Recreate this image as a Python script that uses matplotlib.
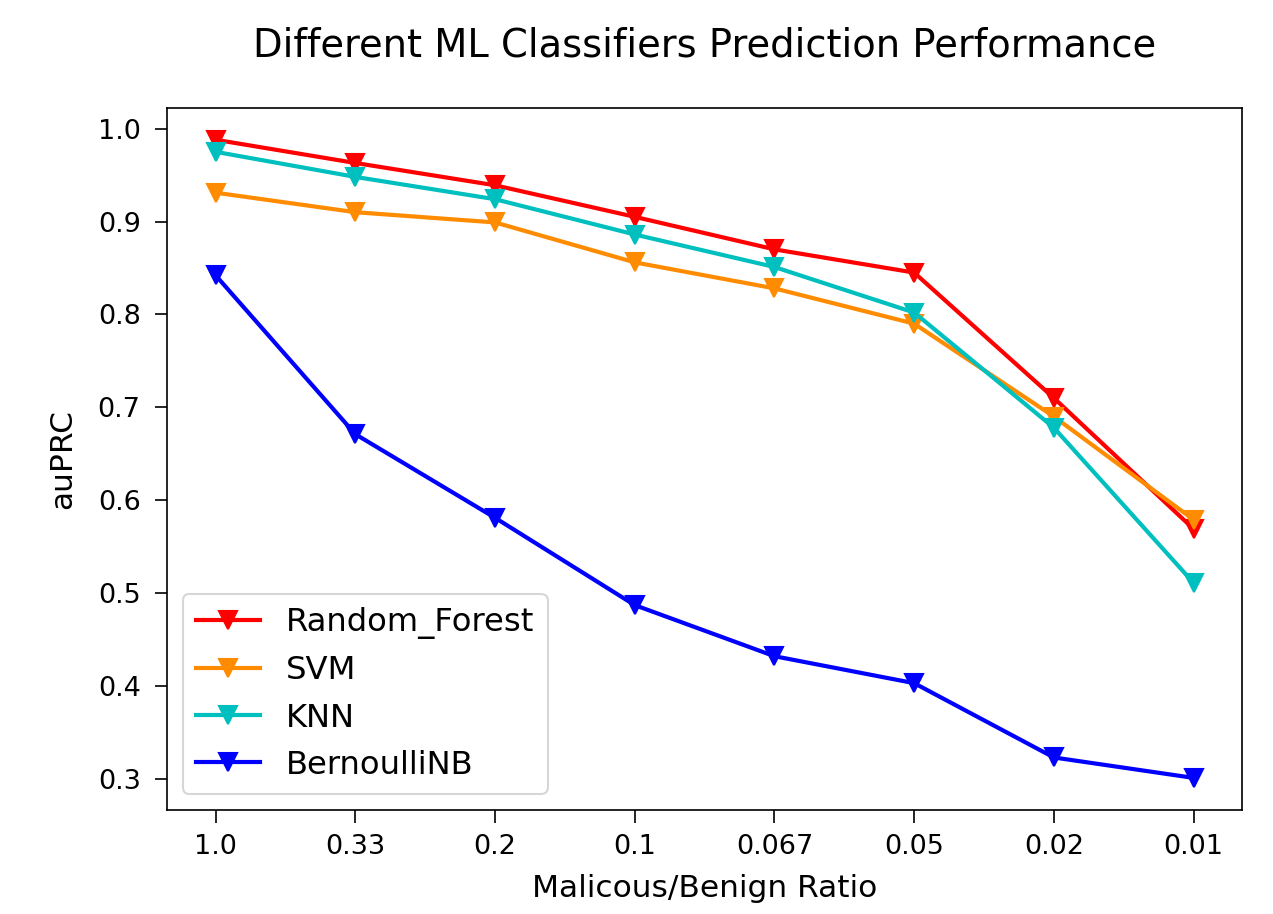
import numpy as np
import matplotlib.pyplot as plt

# 数据
ratios = ['1.0', '0.33', '0.2', '0.1', '0.067', '0.05', '0.02', '0.01']
random_forest = [0.988, 0.963, 0.939, 0.905, 0.870, 0.845, 0.710, 0.569]
svm = [0.931, 0.910, 0.899, 0.856, 0.828, 0.790, 0.690, 0.579]
knn = [0.975, 0.948, 0.924, 0.886, 0.851, 0.802, 0.678, 0.511]
bernoulli_nb = [0.842, 0.671, 0.581, 0.487, 0.432, 0.403, 0.323, 0.301]

x = np.arange(len(ratios))

fig = plt.figure(figsize=(1273 / 150, 914 / 150), dpi=150)
ax = fig.add_axes([0.131, 0.114, 0.845, 0.768])

ax.plot(x, random_forest, color='r', marker='v', markersize=9, linewidth=2, label='Random_Forest')
ax.plot(x, svm, color='darkorange', marker='v', markersize=9, linewidth=2, label='SVM')
ax.plot(x, knn, color='c', marker='v', markersize=9, linewidth=2, label='KNN')
ax.plot(x, bernoulli_nb, color='b', marker='v', markersize=9, linewidth=2, label='BernoulliNB')

ax.set_xticks(x)
ax.set_xticklabels(ratios)
ax.tick_params(axis='x', labelsize=13, length=6, pad=5.5)
ax.tick_params(axis='y', labelsize=13, length=6, pad=6.5)
ax.set_xlabel('Malicous/Benign Ratio', fontsize=15, labelpad=7)
ax.set_ylabel('auPRC', fontsize=15, labelpad=10)
ax.set_title('Different ML Classifiers Prediction Performance', fontsize=18.5, pad=24.5)
ax.legend(loc='lower left', fontsize=15.5)

fig.savefig('out.png', dpi=150)
